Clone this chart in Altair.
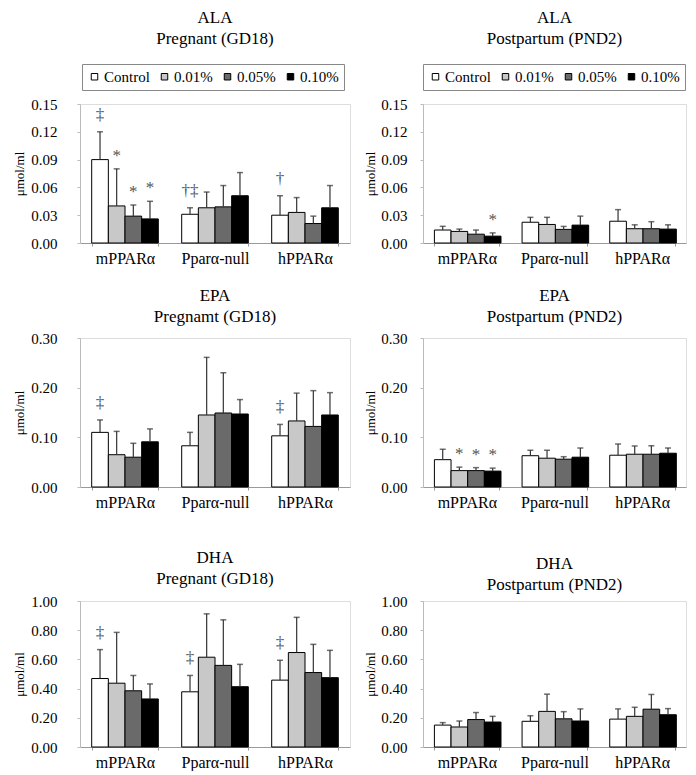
import altair as alt
import pandas as pd

SERIF = "Liberation Serif"

groups = ["mPPARα", "Pparα-null", "hPPARα"]
doses = ["Control", "0.01%", "0.05%", "0.10%"]
dose_colors = ["#ffffff", "#c8c8c8", "#6a6a6a", "#000000"]

# values listed group by group, dose order Control, 0.01%, 0.05%, 0.10%
ala_preg_mean = [0.090, 0.040, 0.029, 0.026, 0.031, 0.038, 0.039, 0.051, 0.030, 0.033, 0.021, 0.038]
ala_preg_upper = [0.120, 0.080, 0.041, 0.045, 0.038, 0.055, 0.062, 0.076, 0.051, 0.049, 0.029, 0.062]
ala_preg_mark = ["‡", "*", "*", "*", "†‡", "", "", "", "†", "", "", ""]

ala_post_mean = [0.014, 0.0125, 0.0095, 0.0074, 0.0224, 0.020, 0.0147, 0.0193, 0.0235, 0.0154, 0.0154, 0.015]
ala_post_upper = [0.018, 0.015, 0.014, 0.0109, 0.0277, 0.0277, 0.0179, 0.029, 0.036, 0.0196, 0.023, 0.0196]
ala_post_mark = ["", "", "", "*", "", "", "", "", "", "", "", ""]

epa_preg_mean = [0.110, 0.065, 0.060, 0.091, 0.083, 0.145, 0.149, 0.147, 0.103, 0.133, 0.122, 0.145]
epa_preg_upper = [0.135, 0.112, 0.088, 0.117, 0.110, 0.261, 0.230, 0.176, 0.126, 0.189, 0.194, 0.190]
epa_preg_mark = ["‡", "", "", "", "", "", "", "", "‡", "", "", ""]

epa_post_mean = [0.055, 0.033, 0.033, 0.032, 0.063, 0.058, 0.056, 0.060, 0.064, 0.066, 0.066, 0.068]
epa_post_upper = [0.076, 0.040, 0.039, 0.038, 0.074, 0.074, 0.061, 0.0785, 0.0866, 0.0826, 0.083, 0.0785]
epa_post_mark = ["", "*", "*", "*", "", "", "", "", "", "", "", ""]

dha_preg_mean = [0.469, 0.437, 0.385, 0.329, 0.378, 0.615, 0.559, 0.413, 0.458, 0.647, 0.510, 0.475]
dha_preg_upper = [0.667, 0.785, 0.490, 0.432, 0.490, 0.912, 0.871, 0.566, 0.594, 0.888, 0.703, 0.662]
dha_preg_mark = ["‡", "", "", "", "‡", "", "", "", "‡", "", "", ""]

dha_post_mean = [0.150, 0.137, 0.188, 0.171, 0.176, 0.244, 0.193, 0.178, 0.191, 0.210, 0.259, 0.221]
dha_post_upper = [0.167, 0.178, 0.236, 0.210, 0.214, 0.362, 0.242, 0.261, 0.261, 0.272, 0.360, 0.263]
dha_post_mark = [""] * 12

ala_ticks = [0.0, 0.03, 0.06, 0.09, 0.12, 0.15]
epa_ticks = [0.0, 0.10, 0.20, 0.30]
dha_ticks = [0.0, 0.20, 0.40, 0.60, 0.80, 1.00]


def make_df(mean, upper, mark):
    rows = []
    i = 0
    for g in groups:
        for d in doses:
            rows.append({"group": g, "dose": d, "mean": mean[i], "upper": upper[i], "mark": mark[i]})
            i += 1
    return pd.DataFrame(rows)


def panel(mean, upper, mark, title, subtitle, ticks, width, height, legend=False,
          label_pad=14, title_pad=4, title_off=8, legend_x=2, legend_y=-40):
    df = make_df(mean, upper, mark)
    ymax = ticks[-1]
    x = alt.X("group:N", sort=groups, title=None,
              scale=alt.Scale(paddingInner=0.26, paddingOuter=0.13),
              axis=alt.Axis(labelAngle=0, labelFont=SERIF, labelFontSize=16, labelColor="#000",
                            labelPadding=4, domainColor="#999", tickColor="#999", tickSize=3,
                            tickBand="extent"))
    xo = alt.XOffset("dose:N", sort=doses, scale=alt.Scale(paddingInner=0, paddingOuter=0))
    y = alt.Y("mean:Q", scale=alt.Scale(domain=[0, ymax], nice=False, zero=True),
              axis=alt.Axis(values=ticks, tickCount=len(ticks), format=".2f", title="μmol/ml",
                            grid=False, labelOverlap=False, labelFont=SERIF, labelFontSize=15,
                            labelColor="#000", labelPadding=label_pad, titleFont=SERIF,
                            titleFontSize=13, titleFontWeight="normal", titleColor="#000",
                            titlePadding=title_pad, domainColor="#bbb", tickColor="#bbb",
                            tickSize=3))
    if legend:
        leg = alt.Legend(title=None, orient="none", legendX=legend_x, legendY=legend_y,
                         direction="horizontal", columns=4, strokeColor="#888", padding=5,
                         symbolType="square", symbolSize=42, symbolStrokeColor="#000",
                         symbolStrokeWidth=1, labelFont=SERIF, labelFontSize=15,
                         labelColor="#000", labelOffset=2, columnPadding=7,
                         fillColor="#fff")
    else:
        leg = None
    color = alt.Color("dose:N", sort=doses,
                      scale=alt.Scale(domain=doses, range=dose_colors), legend=leg)
    base = alt.Chart(df).encode(x=x, xOffset=xo)
    bars = base.mark_bar(stroke="#000", strokeWidth=1).encode(y=y, color=color)
    rule = base.mark_rule(color="#333", strokeWidth=1.2).encode(y="mean:Q", y2="upper:Q")
    cap = base.mark_tick(color="#333", thickness=1.5, size=6, orient="horizontal").encode(y="upper:Q")
    star = base.transform_filter(alt.datum.mark == "*").mark_text(
        baseline="bottom", dy=-4, font=SERIF, fontSize=17, color="#555555").encode(
        y="upper:Q", text="mark:N")
    dagger = base.transform_filter(alt.datum.mark != "*").mark_text(
        baseline="bottom", dy=-8, font=SERIF, fontSize=17, color="#555555").encode(
        y="upper:Q", text="mark:N")
    return alt.layer(bars, rule, cap, star, dagger).properties(
        width=width, height=height,
        title=alt.TitleParams(title, subtitle=subtitle, font=SERIF, fontSize=17,
                              fontWeight="normal", color="#000", subtitleFont=SERIF,
                              subtitleFontSize=17, subtitleColor="#000", subtitlePadding=4,
                              anchor="middle", offset=title_off)
    )


p1 = panel(ala_preg_mean, ala_preg_upper, ala_preg_mark, "ALA", "Pregnant (GD18)", ala_ticks,
           270, 139, legend=True, label_pad=20, title_pad=4, title_off=16, legend_x=2)
p2 = panel(ala_post_mean, ala_post_upper, ala_post_mark, "ALA", "Postpartum (PND2)", ala_ticks,
           263, 139, legend=True, label_pad=13, title_pad=3, title_off=16, legend_x=0)
p3 = panel(epa_preg_mean, epa_preg_upper, epa_preg_mark, "EPA", "Pregnamt (GD18)", epa_ticks,
           270, 149, label_pad=20, title_pad=4, title_off=5)
p4 = panel(epa_post_mean, epa_post_upper, epa_post_mark, "EPA", "Postpartum (PND2)", epa_ticks,
           263, 149, label_pad=13, title_pad=3, title_off=5)
p5 = panel(dha_preg_mean, dha_preg_upper, dha_preg_mark, "DHA", "Pregnant (GD18)", dha_ticks,
           270, 146, label_pad=20, title_pad=4, title_off=0)
p6 = panel(dha_post_mean, dha_post_upper, dha_post_mark, "DHA", "Postpartum (PND2)", dha_ticks,
           263, 146, label_pad=13, title_pad=3, title_off=0)

row1 = alt.hconcat(p1, p2, spacing=13).resolve_scale(color="independent")
row2 = alt.hconcat(p3, p4, spacing=13).resolve_scale(color="independent")
row3 = alt.hconcat(p5, p6, spacing=13).resolve_scale(color="independent")

top_rows = alt.vconcat(row1, row2, spacing=19).resolve_scale(color="independent")
chart = alt.vconcat(top_rows, row3, spacing=37).resolve_scale(color="independent").properties(
    padding={"left": 5, "top": 0, "right": 0, "bottom": 0}
).configure_view(stroke=None).configure(background="#ffffff", font=SERIF)

chart.save("out.html", embed_options={"renderer": "svg", "actions": False})
